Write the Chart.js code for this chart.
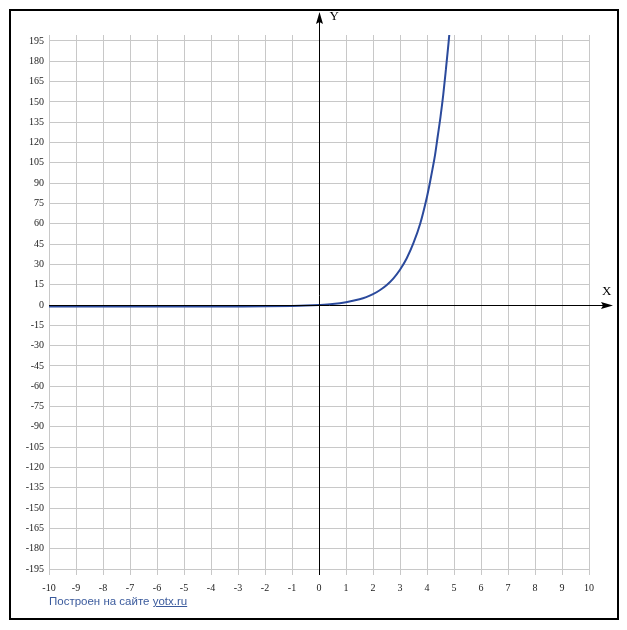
<!DOCTYPE html>
<html>
<head>
<meta charset="utf-8">
<script src="https://cdn.jsdelivr.net/npm/chart.js@4/dist/chart.umd.min.js"></script>
<style>
  body { margin: 0; background: #fff; }
  #wrap { position: relative; width: 627px; height: 630px; }
  #frame { position: absolute; left: 9px; top: 9px; width: 606px; height: 607px; border: 2px solid #000; pointer-events: none; }
  #credit { position: absolute; left: 49px; top: 595px; font: 11.5px "Liberation Sans", Arial, sans-serif; color: #3a5a9c; }
  #credit span { text-decoration: underline; }
</style>
</head>
<body>
<div id="wrap">
  <canvas id="chart" width="627" height="630"></canvas>
  <div id="frame"></div>
  <div id="credit">Построен на сайте <span>yotx.ru</span></div>
</div>
<script>
// points
const xValues = [-10, -8, -6, -4, -3, -2, -1, -0.5, 0, 0.5, 1, 1.5, 1.75, 2, 2.25, 2.5, 2.75, 3, 3.25, 3.5, 3.75,
  4, 4.1, 4.2, 4.3, 4.4, 4.5, 4.6, 4.7, 4.8, 4.9];
const yValues = [-1.2, -1.2, -1.2, -1.1, -1.05, -0.95, -0.7, -0.45, 0, 0.7, 2, 4.2, 5.8, 8, 10.9, 14.6, 19.5, 26, 34.5, 45.8, 60.2,
  80, 89.5, 100, 111, 125, 139, 155, 174, 194, 216];

const xTicks = [-10, -9, -8, -7, -6, -5, -4, -3, -2, -1, 0, 1, 2, 3, 4, 5, 6, 7, 8, 9, 10];
const yTicks = [-195, -180, -165, -150, -135, -120, -105, -90, -75, -60, -45, -30, -15, 0,
  15, 30, 45, 60, 75, 90, 105, 120, 135, 150, 165, 180, 195];

const points = xValues.map((x, i) => ({ x, y: yValues[i] }));

// black axes with arrows and X / Y names
const axesPlugin = {
  id: 'axes',
  afterDatasetsDraw(chart) {
    const { ctx, chartArea, scales } = chart;
    const x0 = Math.round(scales.x.getPixelForValue(0)) + 0.5;
    const y0 = Math.round(scales.y.getPixelForValue(0)) + 0.5;
    ctx.save();
    ctx.strokeStyle = '#000';
    ctx.fillStyle = '#000';
    ctx.lineWidth = 1;
    ctx.beginPath();
    ctx.moveTo(chartArea.left, y0);
    ctx.lineTo(610, y0);
    ctx.moveTo(x0, chartArea.bottom);
    ctx.lineTo(x0, 16);
    ctx.stroke();
    // arrow heads
    ctx.beginPath();
    ctx.moveTo(613, y0);
    ctx.lineTo(601, y0 - 3.5);
    ctx.lineTo(603, y0);
    ctx.lineTo(601, y0 + 3.5);
    ctx.closePath();
    ctx.fill();
    ctx.beginPath();
    ctx.moveTo(x0, 12);
    ctx.lineTo(x0 - 3.5, 24);
    ctx.lineTo(x0, 22);
    ctx.lineTo(x0 + 3.5, 24);
    ctx.closePath();
    ctx.fill();
    ctx.font = '13px "Liberation Serif", serif';
    ctx.textBaseline = 'middle';
    ctx.textAlign = 'left';
    ctx.fillText('Y', x0 + 10, 17);
    ctx.fillText('X', 602, y0 - 14);
    ctx.restore();
  }
};

new Chart(document.getElementById('chart'), {
  type: 'line',
  data: {
    datasets: [{
      data: points,
      borderColor: '#2b4a9c',
      borderWidth: 2,
      pointRadius: 0,
      cubicInterpolationMode: 'monotone',
      fill: false
    }]
  },
  options: {
    responsive: false,
    animation: false,
    events: [],
    layout: { padding: { top: 35, right: 38, left: 0, bottom: 0 } },
    plugins: { legend: { display: false }, tooltip: { enabled: false } },
    scales: {
      x: {
        type: 'linear',
        min: -10,
        max: 10,
        afterBuildTicks: s => { s.ticks = xTicks.map(v => ({ value: v })); },
        afterFit: s => { s.height = 55; },
        grid: { color: '#c8c8c8', lineWidth: 1, drawTicks: false },
        border: { display: false },
        ticks: { padding: 7, color: '#222', font: { family: '"Liberation Serif", serif', size: 10 } }
      },
      y: {
        type: 'linear',
        min: -199.4,
        max: 199.4,
        afterBuildTicks: s => { s.ticks = yTicks.map(v => ({ value: v })); },
        afterFit: s => { s.width = 49; },
        grid: { color: '#c8c8c8', lineWidth: 1, drawTicks: false },
        border: { display: false },
        ticks: { padding: 5, color: '#222', font: { family: '"Liberation Serif", serif', size: 10 } }
      }
    }
  },
  plugins: [axesPlugin]
});
</script>
</body>
</html>
